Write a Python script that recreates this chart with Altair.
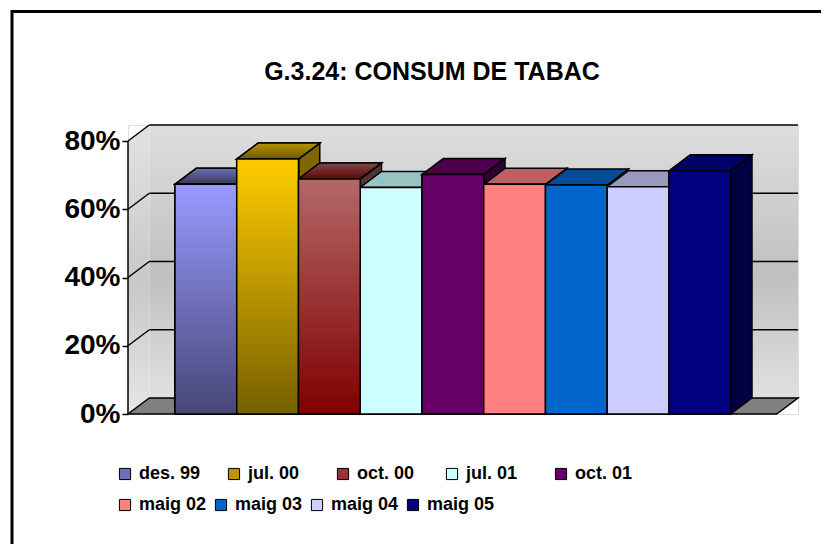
import altair as alt
import pandas as pd

# ---------------- data ----------------
categories = ["des. 99", "jul. 00", "oct. 00", "jul. 01", "oct. 01",
              "maig 02", "maig 03", "maig 04", "maig 05"]
values = [67.3, 74.7, 68.9, 66.4, 70.2, 67.3, 67.1, 66.6, 71.3]
tick_values = [0, 20, 40, 60, 80]
title_text = "G.3.24: CONSUM DE TABAC"
legend_row1 = categories[:5]
legend_row2 = categories[5:]

# ---------------- styles ----------------
front_colors = ["#6e6ebb", "#bb9500", "#9a3333", "#ccffff", "#660066",
                "#ff8080", "#0066cc", "#ccccff", "#000080"]
top_colors = ["#55558a", "#927600", "#6e2a2a", "#99c3c3", "#4c004c",
              "#bf6060", "#004c99", "#9999bf", "#000066"]
side_colors = ["#30305a", "#806600", "#553333", "#669999", "#330033",
               "#804040", "#003366", "#666680", "#000040"]
front_grad = {
    "des. 99": ("#9999ff", "#474778"),
    "jul. 00": ("#ffcc00", "#766000"),
    "oct. 00": ("#b46868", "#800000"),
}
top_grad = {
    "des. 99": ("#6e6eb2", "#36365c"),
    "jul. 00": ("#b89400", "#6c5800"),
    "oct. 00": ("#7c4a4a", "#620404"),
}

# pseudo-3D geometry in scale units
L, R = -0.261, 10.245      # front floor extent (x units, bars at 1..9)
D = 0.345                  # depth offset in x units
DV = 4.689                 # depth offset in y units (%)
YMAX = 80
W, H = 670, 289

xscale = alt.Scale(domain=[L, R + D], nice=False, zero=False)
yscale = alt.Scale(domain=[0, YMAX + DV], nice=False, zero=False)
y_axis = alt.Axis(
    values=tick_values, labelExpr="datum.value + '%'", domain=False, grid=False,
    ticks=True, tickSize=6, tickWidth=1.5, tickColor="black",
    labelFontSize=28, labelFont="Arial", labelFontWeight="bold", labelColor="black",
    labelPadding=2, title=None)


def grad(c0, c1, mid=None):
    stops = [alt.GradientStop(color=c0, offset=0)]
    if mid is not None:
        stops.append(alt.GradientStop(color=mid[1], offset=mid[0]))
    stops.append(alt.GradientStop(color=c1, offset=1))
    return alt.LinearGradient(gradient="linear", stops=stops, x1=0, x2=0, y1=0, y2=1)


def legend(vals, y, pad):
    return alt.Legend(
        title=None, values=vals, orient="none", legendX=-12, legendY=y, direction="horizontal",
        columns=len(vals), gridAlign="all", columnPadding=pad, symbolType="square", symbolSize=125,
        symbolStrokeColor="black", symbolStrokeWidth=1, symbolOpacity=1, labelFont="Arial",
        labelFontWeight="bold", labelFontSize=18, labelColor="black", labelOffset=5)


n = len(categories)
bars = pd.DataFrame({"cat": categories, "v": values, "i": list(range(1, n + 1))})
bars["x0"] = bars["i"] - 0.5
bars["x1"] = bars["i"] + 0.5

top_rows, side_rows = [], []
for c, v, i in zip(categories, values, bars["i"]):
    top_rows += [
        {"cat": c, "x": i - 0.5, "y": v, "y2": v},
        {"cat": c, "x": i - 0.5 + D, "y": v, "y2": v + DV},
        {"cat": c, "x": i + 0.5, "y": v, "y2": v + DV},
        {"cat": c, "x": i + 0.5 + D, "y": v + DV, "y2": v + DV},
    ]
    side_rows += [
        {"cat": c, "x": i + 0.5, "y": 0, "y2": v},
        {"cat": c, "x": i + 0.5 + D, "y": DV, "y2": v + DV},
    ]
tops = pd.DataFrame(top_rows)
sides = pd.DataFrame(side_rows)

X = lambda f: alt.X(f, type="quantitative", scale=xscale, axis=None)
Y = lambda f: alt.Y(f, type="quantitative", scale=yscale, axis=y_axis)

# back wall
back = alt.Chart(pd.DataFrame({"x": [L + D], "x2": [R + D], "y": [DV], "y2": [YMAX + DV]})).mark_rect(
    fill=grad("#dedede", "#e0e0e0", (0.55, "#c0c0c0"))
).encode(x=X("x"), x2="x2", y=Y("y"), y2="y2")

# left wall
left = alt.Chart(pd.DataFrame({"x": [L, L + D], "y": [0, DV], "y2": [YMAX, YMAX + DV]})).mark_area(
    orient="vertical", fill=grad("#e2e2e2", "#e6e6e6", (0.55, "#c8c8c8"))
).encode(x=X("x"), y=Y("y"), y2="y2")

# back gridlines
grid_back = alt.Chart(pd.DataFrame({"g": tick_values[1:]})).transform_calculate(
    y=f"datum.g + {DV}", x=f"{L + D}", x2=f"{R + D}"
).mark_rule(color="black", strokeWidth=1.5).encode(x=X("x"), x2="x2", y=Y("y"))

# left wall gridlines
lw = []
for g in tick_values[1:]:
    lw += [{"g": g, "x": L, "y": g}, {"g": g, "x": L + D, "y": g + DV}]
grid_left = alt.Chart(pd.DataFrame(lw)).mark_line(color="black", strokeWidth=1.5).encode(
    x=X("x"), y=Y("y"), detail="g:N"
)

# floor
floor = alt.Chart(pd.DataFrame({"x": [L, L + D, R, R + D], "y": [0, 0, 0, DV], "y2": [0, DV, DV, DV]})).mark_area(
    orient="vertical", fill="#808080", stroke="black", strokeWidth=1.5
).encode(x=X("x"), y=Y("y"), y2="y2")

# front-left axis edge
axis_line = alt.Chart(pd.DataFrame({"x": [L], "y": [0], "y2": [YMAX]})).mark_rule(
    color="black", strokeWidth=1.5
).encode(x=X("x"), y=Y("y"), y2="y2")

# bar sides
side_layer = alt.Chart(sides).mark_area(orient="vertical", stroke="black", strokeWidth=1.5).encode(
    x=X("x"), y=Y("y"), y2="y2", detail="cat:N",
    fill=alt.Fill("cat:N", scale=alt.Scale(domain=categories, range=side_colors), legend=None),
)

# bar tops
top_layer = alt.Chart(tops).mark_area(orient="vertical", stroke="black", strokeWidth=1.5).encode(
    x=X("x"), y=Y("y"), y2="y2", detail="cat:N",
    fill=alt.Fill("cat:N", scale=alt.Scale(domain=categories, range=top_colors), legend=None),
)
top_grads = [
    alt.Chart(tops).transform_filter(alt.datum.cat == c).mark_area(
        orient="vertical", stroke="black", strokeWidth=1.5, fill=grad(*top_grad[c])
    ).encode(x=X("x"), y=Y("y"), y2="y2")
    for c in top_grad
]

# bar fronts: an under-layer carrying legend row 2, the main layer carrying legend row 1
front_under = alt.Chart(bars).mark_rect(stroke="black", strokeWidth=1.5).encode(
    x=X("x0"), x2="x1", y=Y("v"), y2=alt.Y2(datum=0),
    fill=alt.Fill("cat:N", scale=alt.Scale(domain=categories, range=front_colors),
                  legend=legend(legend_row2, 371, 5)),
)
front_layer = alt.Chart(bars).mark_rect(stroke="black", strokeWidth=1.5).encode(
    x=X("x0"), x2="x1", y=Y("v"), y2=alt.Y2(datum=0),
    color=alt.Color("cat:N", scale=alt.Scale(domain=categories, range=front_colors),
                    legend=legend(legend_row1, 340, 24)),
)
front_grads = [
    alt.Chart(bars).transform_filter(alt.datum.cat == c).mark_rect(
        stroke="black", strokeWidth=1.5, fill=grad(*front_grad[c])
    ).encode(x=X("x0"), x2="x1", y=Y("v"), y2=alt.Y2(datum=0))
    for c in front_grad
]

# title and outer frame lines (top and left only, as in the reference)
one = pd.DataFrame({"a": [0]})
title_mark = alt.Chart(one).mark_text(
    text=title_text, font="Arial", fontSize=25, fontWeight="bold", color="black",
    align="center", baseline="alphabetic"
).encode(x=alt.value(304), y=alt.value(-45))
frame_top = alt.Chart(one).mark_rule(color="black", strokeWidth=3).encode(
    x=alt.value(-117), x2=alt.value(W + 30), y=alt.value(-113.5))
frame_left = alt.Chart(one).mark_rule(color="black", strokeWidth=3).encode(
    x=alt.value(-116), y=alt.value(-115), y2=alt.value(H + 140))

chart = alt.layer(
    back, left, grid_back, grid_left, floor, axis_line,
    side_layer, top_layer, *top_grads, front_under, front_layer, *front_grads,
    title_mark, frame_top, frame_left,
).resolve_scale(fill="independent").properties(
    width=W, height=H,
    autosize=alt.AutoSizeParams(type="none"),
    padding={"left": 120, "top": 117, "right": 23, "bottom": 130},
).configure_view(stroke=None).configure(background="white")

chart.save("out.html", embed_options={"renderer": "svg", "actions": False})
